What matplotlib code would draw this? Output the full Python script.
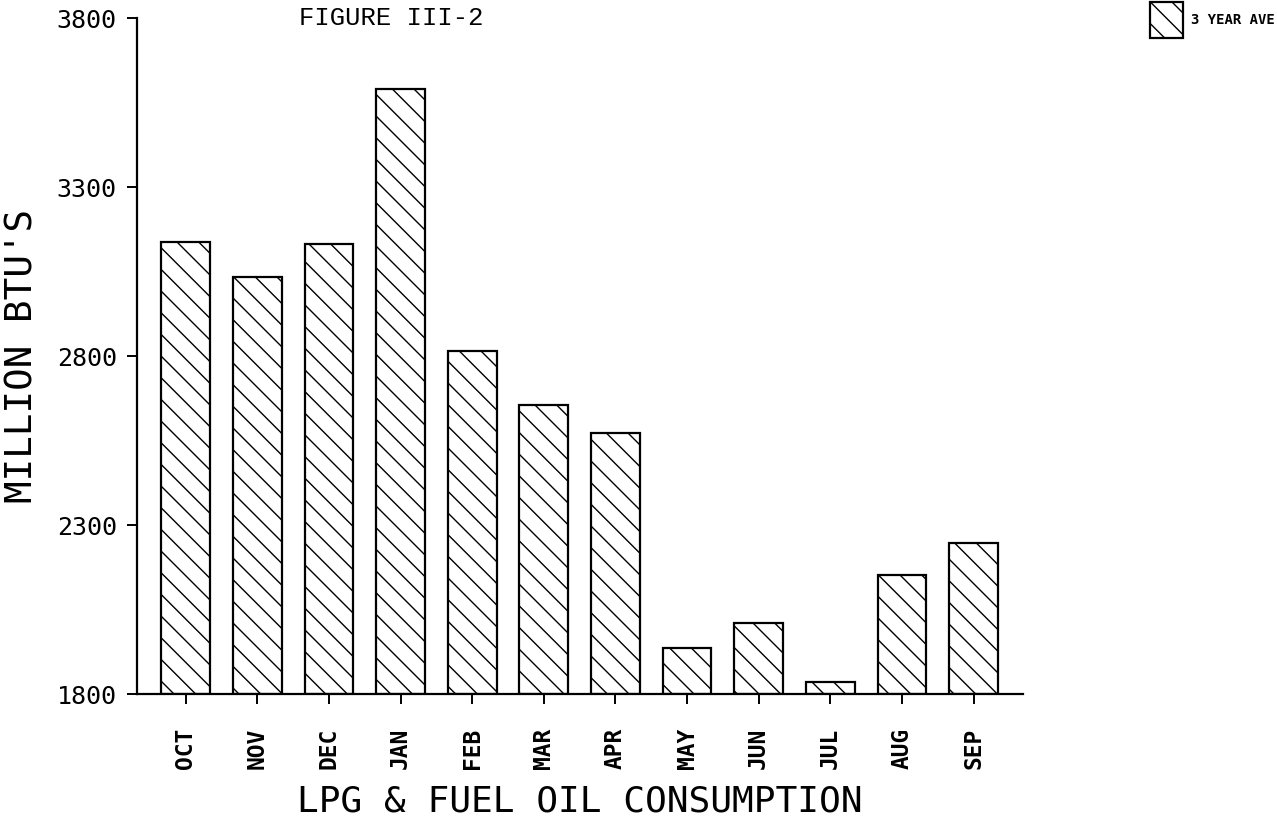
import numpy as np
import matplotlib
matplotlib.use("Agg")
import matplotlib.pyplot as plt

# monthly consumption, 3 year average (million BTU's)
months = ["OCT", "NOV", "DEC", "JAN", "FEB", "MAR", "APR", "MAY", "JUN", "JUL", "AUG", "SEP"]
ave_3yr = [3137, 3034, 3131, 3590, 2815, 2655, 2572, 1936, 2010, 1835, 2152, 2247]
yticks = [1800, 2300, 2800, 3300, 3800]

DPI = 130          # chosen so the hatch spacing matches the scan
W, H = 1277, 833

def pt(v):
    # sizes below are written as points at 100 dpi
    return v * 100.0 / DPI

def main():
    plt.rcParams['hatch.linewidth'] = pt(1.0)
    fig = plt.figure(figsize=(W / DPI + 0.0001, H / DPI + 0.0001), dpi=DPI)
    ax = fig.add_axes([137 / W, 1 - 694 / H, (1023 - 137) / W, (694 - 18) / H])

    x = np.arange(len(months))
    ax.bar(x, np.array(ave_3yr) - 1800, bottom=1800, width=0.68,
           facecolor="white", edgecolor="black", linewidth=pt(1.6),
           hatch="\\\\", label="3 YEAR AVE")

    ax.set_xlim(-0.68, 11.69)
    ax.set_ylim(1800, 3800)
    ax.set_yticks(yticks)
    ax.set_yticklabels([str(v) for v in yticks], fontsize=pt(18), family="DejaVu Sans Mono")
    ax.set_xticks(x)
    ax.set_xticklabels(months, rotation=90, fontsize=pt(16.5), fontweight="bold",
                       family="DejaVu Sans Mono")
    ax.tick_params(axis="both", direction="out", length=pt(7.5), width=pt(1.4), color="black")
    ax.tick_params(axis="y", pad=pt(7))
    ax.tick_params(axis="x", pad=pt(17))

    for s in ["top", "right"]:
        ax.spines[s].set_visible(False)
    for s in ["left", "bottom"]:
        ax.spines[s].set_linewidth(pt(1.6))

    ax.set_ylabel("MILLION BTU'S", fontsize=pt(27), family="DejaVu Sans Mono")
    ax.yaxis.set_label_coords((40 - 137) / 886, 0.5)
    ax.set_xlabel("LPG & FUEL OIL CONSUMPTION", fontsize=pt(26), family="DejaVu Sans Mono")
    ax.xaxis.set_label_coords(0.5, (833 - 784 - 139) / 676)

    fig.text(391 / W, 1 - 18 / H, "FIGURE III-2", family="Liberation Mono",
             fontsize=pt(18.5), ha="center", va="center")

    fig.legend(loc="upper left", bbox_to_anchor=(1150 / W, 1 - 2 / H), frameon=False,
               prop={"family": "DejaVu Sans Mono", "weight": "bold", "size": pt(10)},
               handlelength=2.37, handleheight=3.61, handletextpad=0.55,
               borderpad=0, borderaxespad=0)

    fig.savefig("out.png", dpi=DPI, facecolor="white")

if __name__ == "__main__":
    main()
